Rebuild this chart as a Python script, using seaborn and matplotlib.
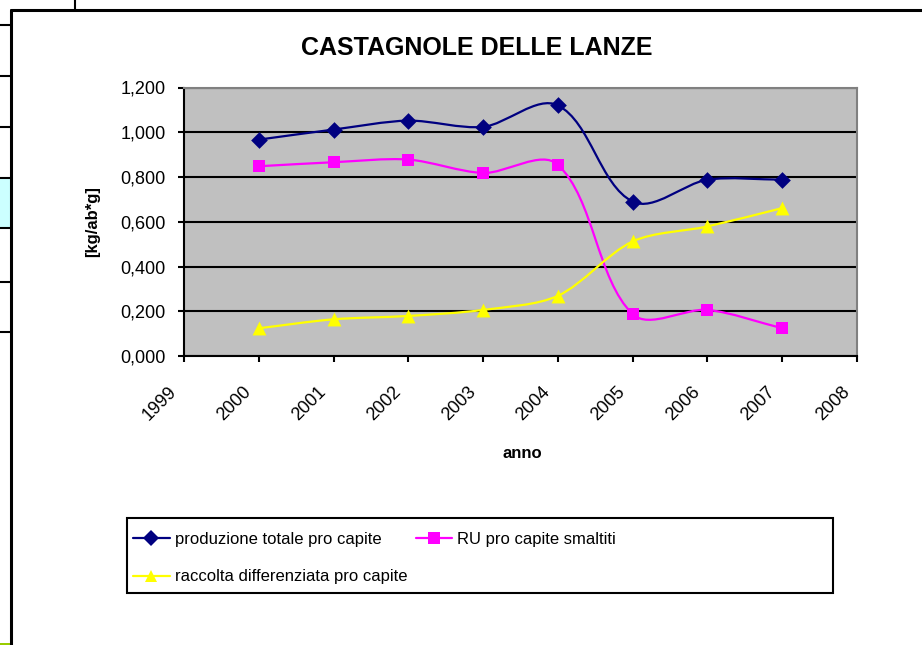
import numpy as np
import pandas as pd
import seaborn as sns
import matplotlib.pyplot as plt
import matplotlib.transforms as mtransforms
from matplotlib.path import Path
from matplotlib.patches import PathPatch, Rectangle
from matplotlib.lines import Line2D

# data
anni = [2000, 2001, 2002, 2003, 2004, 2005, 2006, 2007]
produzione = [0.967, 1.012, 1.052, 1.024, 1.120, 0.690, 0.788, 0.788]
ru_smaltiti = [0.848, 0.866, 0.878, 0.818, 0.855, 0.187, 0.206, 0.124]
raccolta_diff = [0.124, 0.164, 0.179, 0.206, 0.269, 0.512, 0.579, 0.661]

serie = ["produzione totale pro capite", "RU pro capite smaltiti",
         "raccolta differenziata pro capite"]
colori = ["#000080", "#FF00FF", "#FFFF00"]
marker = ["D", "s", "^"]
msize = [8.5, 9, 10]

xticks = list(range(1999, 2009))
yticks = [0.0, 0.2, 0.4, 0.6, 0.8, 1.0, 1.2]

df = pd.DataFrame({"anno": anni * 3,
                   "valore": produzione + ru_smaltiti + raccolta_diff,
                   "serie": [s for s in serie for _ in anni]})

sns.set_theme(style="white")
plt.rcParams["font.family"] = ["Liberation Sans", "DejaVu Sans"]
plt.rcParams.update({"text.color": "black", "axes.labelcolor": "black",
                     "xtick.color": "black", "ytick.color": "black"})

W, H = 922, 645
AX_W, AX_H = 673, 268.5
XLIM, YLIM = (1999, 2008), (0, 1.2)


def smooth_path(xs, ys, k=0.3):
    # excel-like smoothed line, bezier handles scaled by segment length
    sx = AX_W / (XLIM[1] - XLIM[0])
    sy = AX_H / (YLIM[1] - YLIM[0])
    p = np.column_stack([np.asarray(xs, float) * sx, np.asarray(ys, float) * sy])
    n = len(p)
    tang = []
    for i in range(n):
        t = p[min(i + 1, n - 1)] - p[max(i - 1, 0)]
        tang.append(t / np.hypot(*t))
    verts = [p[0]]
    codes = [Path.MOVETO]
    for i in range(n - 1):
        d = np.hypot(*(p[i + 1] - p[i]))
        verts += [p[i] + tang[i] * d * k, p[i + 1] - tang[i + 1] * d * k, p[i + 1]]
        codes += [Path.CURVE4] * 3
    verts = np.array(verts) / [sx, sy]
    return Path(verts, codes)


fig = plt.figure(figsize=(W / 100, H / 100), dpi=100)
ax = fig.add_axes([184 / W, 1 - 356 / H, AX_W / W, AX_H / H])
ax.set_facecolor("#C0C0C0")

for s, c, m, ms in zip(serie, colori, marker, msize):
    sub = df[df["serie"] == s]
    ax.add_patch(PathPatch(smooth_path(sub["anno"], sub["valore"]),
                           fill=False, edgecolor=c, lw=1.6, zorder=3))
    sns.scatterplot(data=sub, x="anno", y="valore", color=c, marker=m,
                    s=ms ** 2, linewidth=0, ax=ax, zorder=4, legend=False)

ax.set_xlim(*XLIM)
ax.set_ylim(*YLIM)
ax.set_xticks(xticks)
ax.set_xticklabels([str(x) for x in xticks], rotation=45, ha="right",
                   va="center", rotation_mode="anchor", fontsize=13)
ax.set_yticks(yticks)
ax.set_yticklabels([f"{v:.3f}".replace(".", ",") for v in yticks], fontsize=13)
ax.tick_params(axis="x", direction="out", length=4, width=1.5, color="black",
               bottom=True, pad=20)
ax.tick_params(axis="y", direction="out", length=4, width=1.5, color="black",
               left=True, pad=9)
off = mtransforms.ScaledTranslation(-0.10, 0, fig.dpi_scale_trans)
for lab in ax.get_xticklabels():
    lab.set_transform(lab.get_transform() + off)

ax.set_axisbelow(True)
ax.grid(axis="y", color="black", lw=1.5)
ax.grid(axis="x", visible=False)
for side in ["left", "bottom"]:
    ax.spines[side].set_color("black")
    ax.spines[side].set_linewidth(1.5)
for side in ["top", "right"]:
    ax.spines[side].set_color("#808080")
    ax.spines[side].set_linewidth(1.5)

ax.set_xlabel("anno", fontsize=12, fontweight="bold", va="center")
ax.xaxis.set_label_coords((522 - 184) / AX_W, -(453 - 356) / AX_H)
ax.set_ylabel("[kg/ab*g]", fontsize=12, fontweight="bold", va="center")
ax.yaxis.set_label_coords((93 - 184) / AX_W, 0.5)

fig.text(477 / W, 1 - 48 / H, "CASTAGNOLE DELLE LANZE", ha="center",
         va="center", fontsize=18, fontweight="bold")

# legend: column-wise fill, so raccolta goes under produzione
order = [0, 2, 1]
handles = [Line2D([], [], color=colori[i], marker=marker[i],
                  markersize=msize[i] * 0.9, lw=1.6, markeredgewidth=0)
           for i in order]
fig.legend(handles, [serie[i] for i in order], loc="upper left", ncol=2,
           frameon=False, bbox_to_anchor=(133 / W, 1 - 532 / H), borderpad=0,
           borderaxespad=0, fontsize=12, handlelength=2.2, handletextpad=0.3,
           columnspacing=0.5, labelspacing=1.35)
fig.patches.append(Rectangle((127 / W, 1 - 593 / H), 706 / W, 75 / H,
                             transform=fig.transFigure, fill=False,
                             edgecolor="black", lw=1.5))

# spreadsheet cells around the chart object
fig.add_artist(Line2D([11 / W, 11 / W], [0, 1 - 9.5 / H], color="black", lw=2.2,
                      transform=fig.transFigure))
fig.add_artist(Line2D([11 / W, 1], [1 - 9.5 / H, 1 - 9.5 / H], color="black",
                      lw=2.2, transform=fig.transFigure))
fig.add_artist(Line2D([75 / W, 75 / W], [1, 1 - 9.5 / H], color="black", lw=1.5,
                      transform=fig.transFigure))
fig.patches.append(Rectangle((0, 1 - 228 / H), 10 / W, 50 / H,
                             transform=fig.transFigure, facecolor="#CCFFFF",
                             edgecolor="none"))
fig.patches.append(Rectangle((0, 0), 10 / W, 2.5 / H, transform=fig.transFigure,
                             facecolor="#99CC00", edgecolor="none"))
for yy in [25, 76, 127, 178, 228, 282, 332]:
    fig.add_artist(Line2D([0, 11 / W], [1 - yy / H, 1 - yy / H], color="black",
                          lw=1.5, transform=fig.transFigure))

fig.savefig("out.png", dpi=100)
